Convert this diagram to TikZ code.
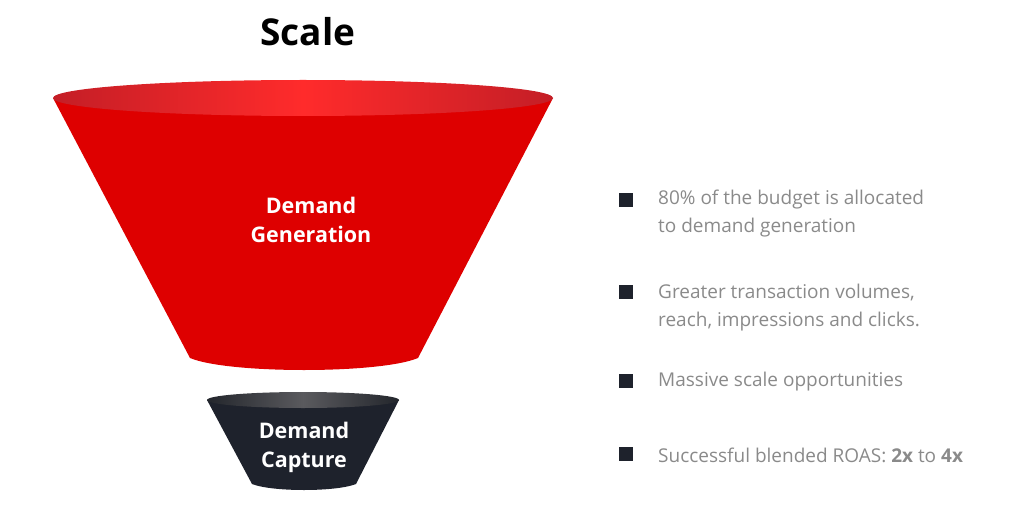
\documentclass[tikz,border=0pt]{standalone}
\usepackage{fontspec}
\setmainfont{Open Sans}
\usetikzlibrary{positioning}
\definecolor{FunRed}{HTML}{DE0000}
\definecolor{FunRedRim}{HTML}{C41E26}
\definecolor{FunRedGlow}{HTML}{FF2B2B}
\definecolor{FunDark}{HTML}{1E222C}
\definecolor{FunDarkRim}{HTML}{23262C}
\definecolor{FunDarkGlow}{HTML}{5A5A5E}
\definecolor{BulletGrey}{HTML}{8A8A8A}

\begin{document}
\begin{tikzpicture}[x=1pt, y=-1pt,
  funlabel/.style={text=white, font=\fontsize{21.5}{29}\selectfont\bfseries, align=center},
  bullet/.style={fill=FunDark, minimum size=14pt, inner sep=0pt},
  item/.style={anchor=west, text=BulletGrey, font=\fontsize{19}{28}\selectfont,
               align=left, inner sep=0pt}]
  \useasboundingbox (0,0) rectangle (1024,513);
  \node[font=\fontsize{37}{44}\selectfont\bfseries] (title) at (308,32) {Scale};

  % big funnel
  \fill[FunRed] (53,98) -- (190,358) .. controls (228,374) and (380,374) .. (418,358)
    -- (553,98) -- cycle;
  \shade[left color=FunRedRim, right color=FunRedRim, middle color=FunRedGlow]
    (303,98) ellipse [x radius=250, y radius=18];
  \node[funlabel] (gen) at (311,220) {Demand\\Generation};

  % small funnel
  \fill[FunDark] (207,400) -- (252,484) .. controls (272,492) and (336,492) .. (356,484)
    -- (399,400) -- cycle;
  \shade[left color=FunDarkRim, right color=FunDarkRim, middle color=FunDarkGlow]
    (303,400) ellipse [x radius=96, y radius=8];
  \node[funlabel] (cap) at (304,447) {Demand\\Capture};

  % bullet list
  \node[bullet] (b1) at (626,200) {};
  \node[bullet] (b2) at (626,292) {};
  \node[bullet] (b3) at (626,381) {};
  \node[bullet] (b4) at (626,454) {};
  \node[item] (t1) at (658,214) {80\% of the budget is allocated\\to demand generation};
  \node[item] (t2) at (658,308) {Greater transaction volumes,\\reach, impressions and clicks.};
  \node[item] (t3) at (658,382) {Massive scale opportunities};
  \node[item] (t4) at (658,455) {Successful blended ROAS: \textbf{2x} to \textbf{4x}};
\end{tikzpicture}
\end{document}
